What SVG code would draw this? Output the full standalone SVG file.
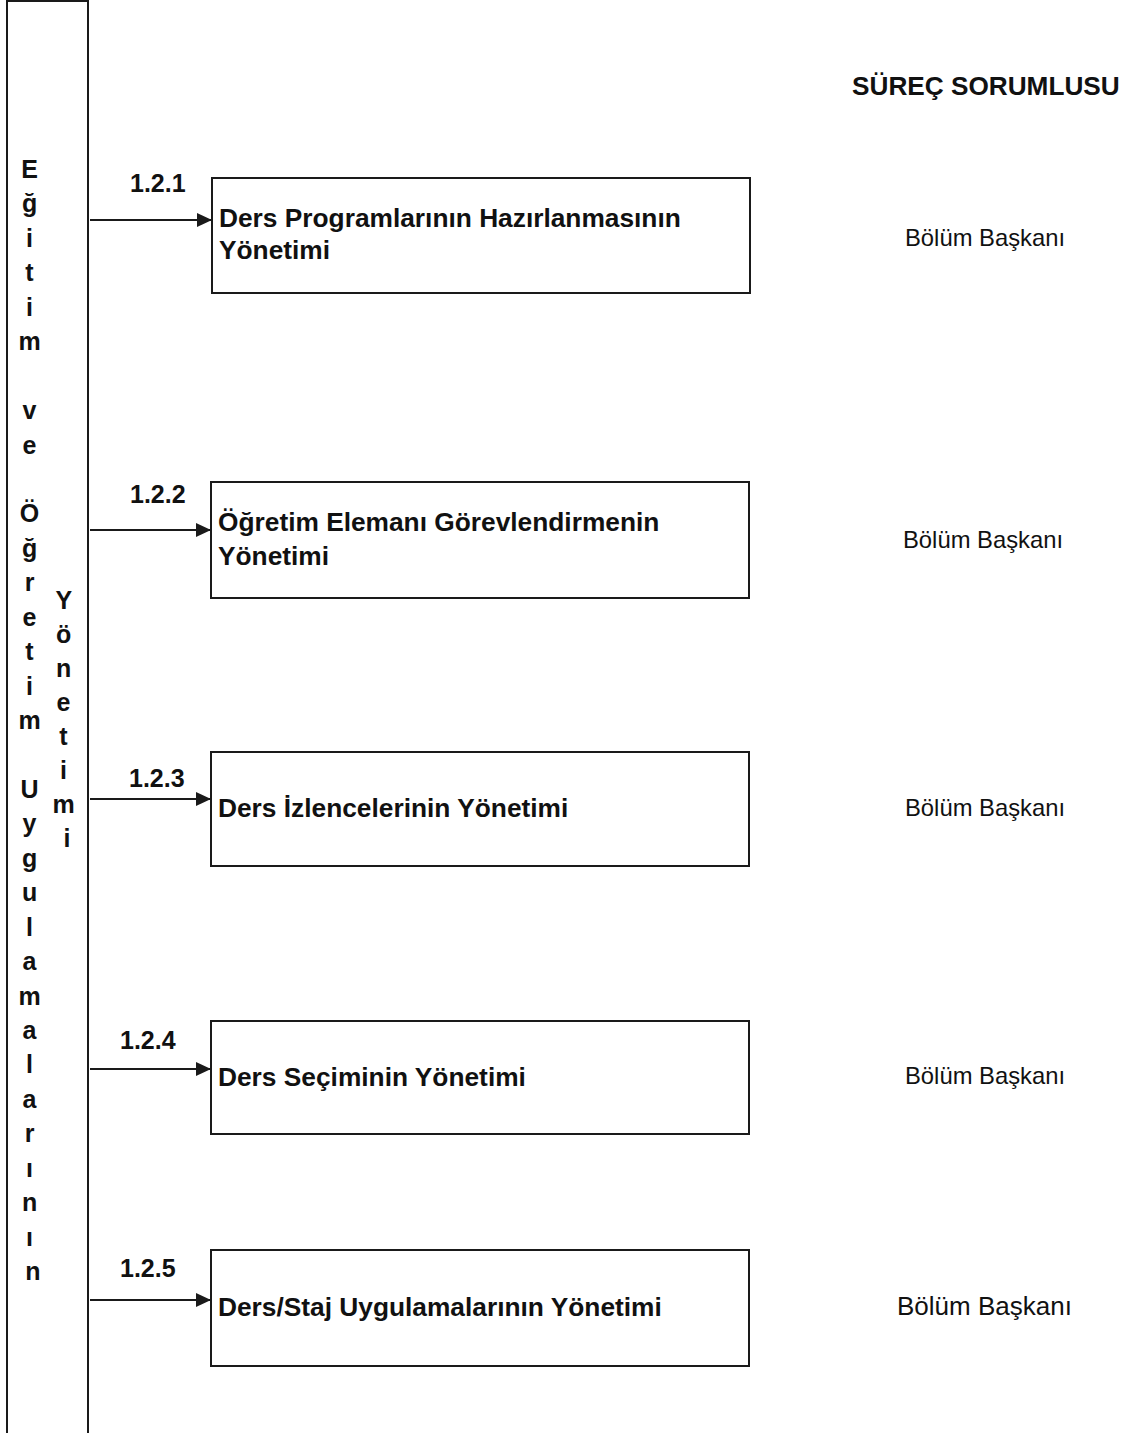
<svg xmlns="http://www.w3.org/2000/svg" width="1130" height="1433" viewBox="0 0 1130 1433">
<defs>
<style>
.box{fill:#fff;stroke:#1a1a1a;stroke-width:2}
.conn{stroke:#1a1a1a;stroke-width:2;fill:none}
.t{font-family:"Liberation Sans",Arial,sans-serif;fill:#111}
.b{font-weight:bold}
.node{font-size:26.3px;font-weight:bold}
.num{font-size:25px;font-weight:bold}
.col{font-size:25px;font-weight:bold;text-anchor:middle}
.resp{font-size:23.8px}
</style>
<marker id="arr" markerUnits="userSpaceOnUse" markerWidth="17" markerHeight="15" refX="15" refY="7" orient="auto">
<path d="M0,0 L15,7 L0,14 Z" fill="#1a1a1a"/>
</marker>
</defs>
<rect width="1130" height="1433" fill="#fff"/>

<g id="lane">
<path class="conn" d="M7,1445 L7,1 L88,1 L88,1445"/>
<text class="t col">
<tspan x="33" y="178">E</tspan>
<tspan x="33" y="212.4">ğ</tspan>
<tspan x="33" y="246.9">i</tspan>
<tspan x="33" y="281.3">t</tspan>
<tspan x="33" y="315.8">i</tspan>
<tspan x="33" y="350.2">m</tspan>
<tspan x="33" y="419.1">v</tspan>
<tspan x="33" y="453.5">e</tspan>
<tspan x="33" y="522.4">Ö</tspan>
<tspan x="33" y="556.8">ğ</tspan>
<tspan x="33" y="591.3">r</tspan>
<tspan x="33" y="625.7">e</tspan>
<tspan x="33" y="660.2">t</tspan>
<tspan x="33" y="694.6">i</tspan>
<tspan x="33" y="729">m</tspan>
<tspan x="33" y="797.9">U</tspan>
<tspan x="33" y="832.4">y</tspan>
<tspan x="33" y="866.8">g</tspan>
<tspan x="33" y="901.2">u</tspan>
<tspan x="33" y="935.7">l</tspan>
<tspan x="33" y="970.1">a</tspan>
<tspan x="33" y="1004.6">m</tspan>
<tspan x="33" y="1039">a</tspan>
<tspan x="33" y="1073.4">l</tspan>
<tspan x="33" y="1107.9">a</tspan>
<tspan x="33" y="1142.3">r</tspan>
<tspan x="33" y="1176.8">ı</tspan>
<tspan x="33" y="1211.2">n</tspan>
<tspan x="33" y="1245.6">ı</tspan>
<tspan x="33" y="1280.1">n</tspan>
</text>
<text class="t col">
<tspan x="67" y="609">Y</tspan>
<tspan x="67" y="643">ö</tspan>
<tspan x="67" y="677">n</tspan>
<tspan x="67" y="711">e</tspan>
<tspan x="67" y="745">t</tspan>
<tspan x="67" y="779">i</tspan>
<tspan x="67" y="813">m</tspan>
<tspan x="67" y="847">i</tspan>
</text>
</g>

<text id="header" class="t b" x="852" y="95" font-size="26.2">SÜREÇ SORUMLUSU</text>

<g id="connectors">
<line class="conn" x1="90" y1="220" x2="212" y2="220" marker-end="url(#arr)"/>
<line class="conn" x1="90" y1="530" x2="211" y2="530" marker-end="url(#arr)"/>
<line class="conn" x1="90" y1="799" x2="211" y2="799" marker-end="url(#arr)"/>
<line class="conn" x1="90" y1="1069" x2="211" y2="1069" marker-end="url(#arr)"/>
<line class="conn" x1="90" y1="1300" x2="211" y2="1300" marker-end="url(#arr)"/>
</g>

<g id="n121">
<text class="t num" x="130" y="192">1.2.1</text>
<rect class="box" x="212" y="178" width="538" height="115"/>
<text class="t node" x="219" y="227">Ders Programlarının Hazırlanmasının</text>
<text class="t node" x="219" y="259">Yönetimi</text>
<text class="t resp" x="905" y="246">Bölüm Başkanı</text>
</g>

<g id="n122">
<text class="t num" x="130" y="503">1.2.2</text>
<rect class="box" x="211" y="482" width="538" height="116"/>
<text class="t node" x="218" y="531">Öğretim Elemanı Görevlendirmenin</text>
<text class="t node" x="218" y="565">Yönetimi</text>
<text class="t resp" x="903" y="548">Bölüm Başkanı</text>
</g>

<g id="n123">
<text class="t num" x="129" y="787">1.2.3</text>
<rect class="box" x="211" y="752" width="538" height="114"/>
<text class="t node" x="218" y="817">Ders İzlencelerinin Yönetimi</text>
<text class="t resp" x="905" y="816">Bölüm Başkanı</text>
</g>

<g id="n124">
<text class="t num" x="120" y="1049">1.2.4</text>
<rect class="box" x="211" y="1021" width="538" height="113"/>
<text class="t node" x="218" y="1086">Ders Seçiminin Yönetimi</text>
<text class="t resp" x="905" y="1084">Bölüm Başkanı</text>
</g>

<g id="n125">
<text class="t num" x="120" y="1277">1.2.5</text>
<rect class="box" x="211" y="1250" width="538" height="116"/>
<text class="t node" x="218" y="1316">Ders/Staj Uygulamalarının Yönetimi</text>
<text class="t" x="897" y="1315" font-size="26">Bölüm Başkanı</text>
</g>
</svg>
